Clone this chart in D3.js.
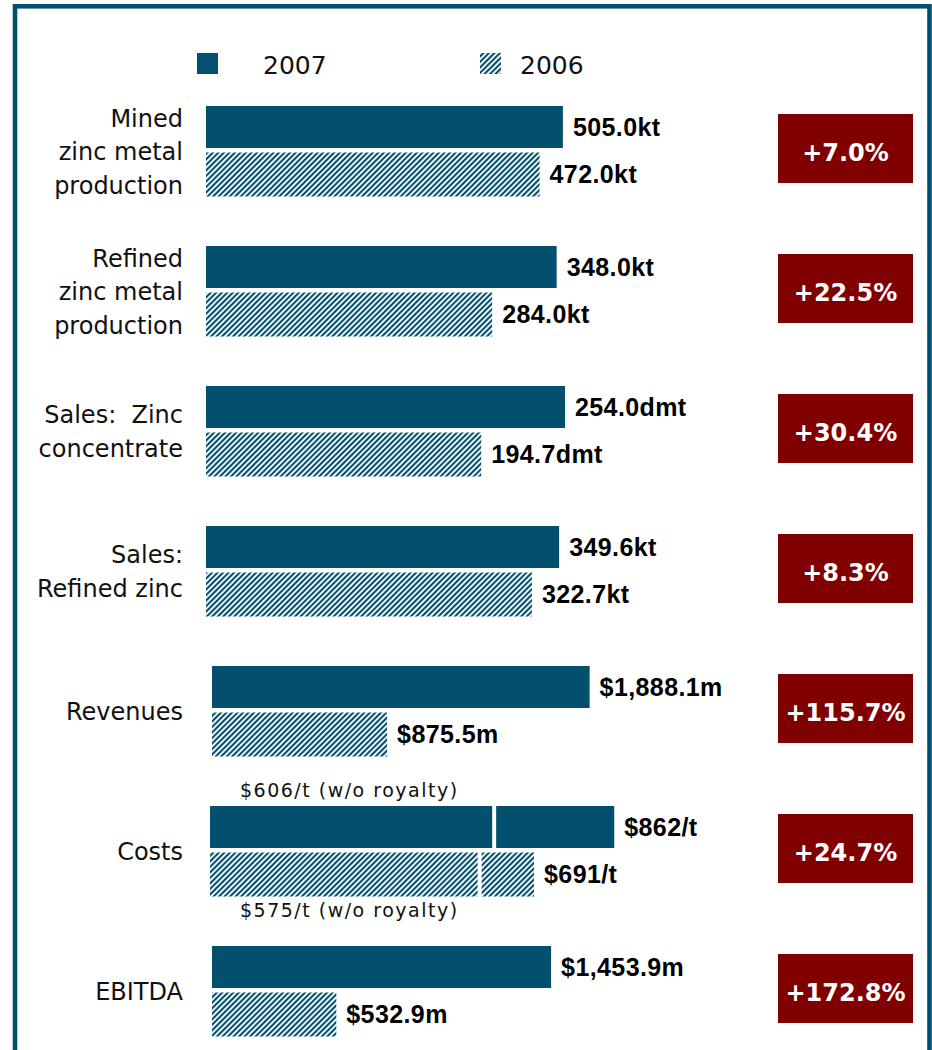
<!DOCTYPE html>
<html>
<head>
<meta charset="utf-8">
<script src="https://cdn.jsdelivr.net/npm/d3@7"></script>
<style>
  body { margin: 0; background: #fff; }
  svg { display: block; }
</style>
</head>
<body>
<div id="chart"></div>
<script>
// chart values
const categories = [
  ["Mined", "zinc metal", "production"],
  ["Refined", "zinc metal", "production"],
  ["Sales:  Zinc", "concentrate"],
  ["Sales:", "Refined zinc"],
  ["Revenues"],
  ["Costs"],
  ["EBITDA"]
];
const values2007 = [505.0, 348.0, 254.0, 349.6, 1888.1, 862, 1453.9];
const values2006 = [472.0, 284.0, 194.7, 322.7, 875.5, 691, 532.9];
const labels2007 = ["505.0kt", "348.0kt", "254.0dmt", "349.6kt", "$1,888.1m", "$862/t", "$1,453.9m"];
const labels2006 = ["472.0kt", "284.0kt", "194.7dmt", "322.7kt", "$875.5m", "$691/t", "$532.9m"];
const changes = ["+7.0%", "+22.5%", "+30.4%", "+8.3%", "+115.7%", "+24.7%", "+172.8%"];
// each panel had its own axis maximum
const axisMax = [566, 397, 283, 396, 2000, 853, 1715];
// costs without royalty (2007, 2006)
const costNoRoyalty = [606, 575];
const costNoRoyaltyLabels = ["$606/t (w/o royalty)", "$575/t (w/o royalty)"];
const years = ["2007", "2006"];

const w = 932;
const h = 1050;
const teal = "#02506e";
const red = "#800000";
const barStart = [206, 206, 206, 206, 212, 210, 212];
const barRange = 400;

const svg = d3.select("#chart")
  .append("svg")
  .attr("width", w)
  .attr("height", h);

const defs = svg.append("defs");
const pat = defs.append("pattern")
  .attr("id", "hatch")
  .attr("patternUnits", "userSpaceOnUse")
  .attr("width", 3.9)
  .attr("height", 3.9)
  .attr("patternTransform", "rotate(45)");
pat.append("rect").attr("width", 3.9).attr("height", 3.9).attr("fill", "#fff");
pat.append("rect").attr("width", 2.1).attr("height", 3.9).attr("fill", teal);

// frame
svg.append("rect")
  .attr("x", 15).attr("y", 6.3)
  .attr("width", 914.5).attr("height", 1100)
  .attr("fill", "none")
  .attr("stroke", teal)
  .attr("stroke-width", 4.6);

// legend
const legendX = [197, 480];
years.forEach((yr, i) => {
  svg.append("rect")
    .attr("x", legendX[i]).attr("y", 53)
    .attr("width", 21).attr("height", 21)
    .attr("fill", i === 0 ? teal : "url(#hatch)");
  svg.append("text")
    .attr("x", legendX[i] + (i === 0 ? 66 : 40))
    .attr("y", 73.5)
    .attr("font-family", "DejaVu Sans")
    .attr("font-size", 25)
    .attr("fill", "#111")
    .text(yr);
});

const y = d3.scaleLinear().domain([0, categories.length - 1]).range([106, 946]);

categories.forEach((lines, i) => {
  const top = y(i);
  const x = d3.scaleLinear().domain([0, axisMax[i]]).range([0, barRange]);
  const x0 = barStart[i];
  const g = svg.append("g");

  // category label
  const center = top + 45;
  g.append("text")
    .attr("text-anchor", "end")
    .attr("font-family", "DejaVu Sans")
    .attr("font-size", 24)
    .attr("fill", "#111")
    .style("white-space", "pre")
    .selectAll("tspan")
    .data(lines)
    .join("tspan")
    .attr("x", 183)
    .attr("y", (d, j) => center + (j - (lines.length - 1) / 2) * 33.5 + 9)
    .text(d => d);

  const rows = [
    { v: values2007[i], label: labels2007[i], y0: top, hgt: 42, fill: teal },
    { v: values2006[i], label: labels2006[i], y0: top + 46.5, hgt: 44, fill: "url(#hatch)" }
  ];

  rows.forEach((r, k) => {
    if (i === 5) {
      // costs: split at cost without royalty
      const split = x(costNoRoyalty[k]);
      g.append("rect")
        .attr("x", x0).attr("y", r.y0)
        .attr("width", split - 2).attr("height", r.hgt)
        .attr("fill", r.fill);
      g.append("rect")
        .attr("x", x0 + split + 2).attr("y", r.y0)
        .attr("width", x(r.v) - split - 2).attr("height", r.hgt)
        .attr("fill", r.fill);
    } else {
      g.append("rect")
        .attr("x", x0).attr("y", r.y0)
        .attr("width", x(r.v)).attr("height", r.hgt)
        .attr("fill", r.fill);
    }
    g.append("text")
      .attr("x", x0 + x(r.v) + 10)
      .attr("y", r.y0 + r.hgt / 2 + 8.5)
      .attr("font-family", "Liberation Sans, Arial")
      .attr("font-weight", "bold")
      .attr("font-size", 25)
      .attr("letter-spacing", 0.4)
      .attr("fill", "#000")
      .text(r.label);
  });

  if (i === 5) {
    [top - 9, top + 111].forEach((ty, k) => {
      g.append("text")
        .attr("x", 240)
        .attr("y", ty)
        .attr("font-family", "DejaVu Sans")
        .attr("font-size", 19)
        .attr("letter-spacing", 1.5)
        .attr("fill", "#111")
        .text(costNoRoyaltyLabels[k]);
    });
  }

  // change badge
  g.append("rect")
    .attr("x", 778).attr("y", top + 8)
    .attr("width", 135).attr("height", 69)
    .attr("fill", red);
  g.append("text")
    .attr("x", 845.5)
    .attr("y", top + 54.5)
    .attr("text-anchor", "middle")
    .attr("font-family", "DejaVu Sans")
    .attr("font-weight", "bold")
    .attr("font-size", 24)
    .attr("fill", "#fff")
    .text(changes[i]);
});
</script>
</body>
</html>
